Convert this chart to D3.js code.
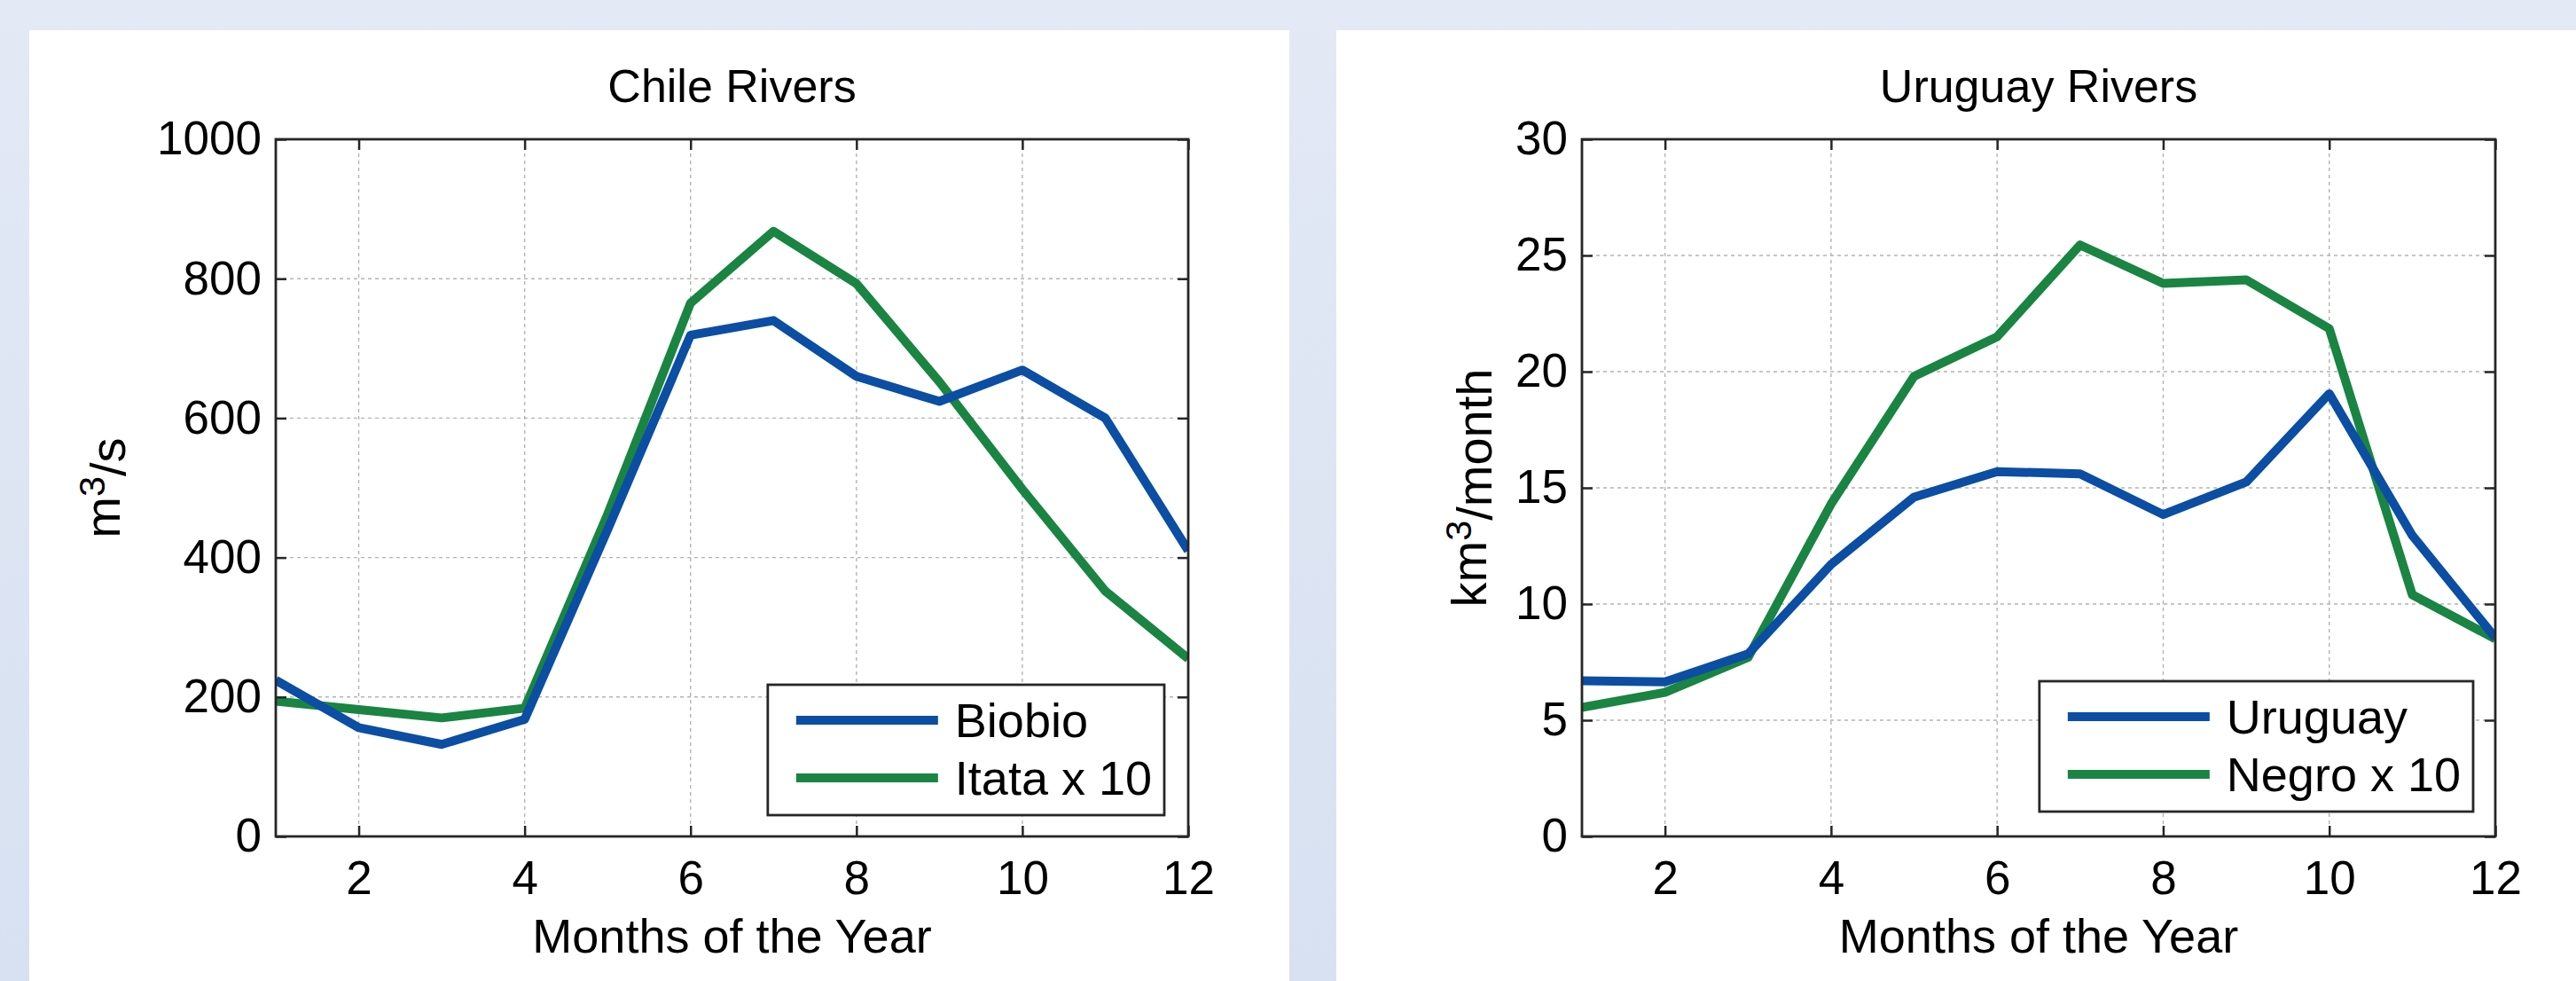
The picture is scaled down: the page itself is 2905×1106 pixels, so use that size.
<!DOCTYPE html>
<html>
<head>
<meta charset="utf-8">
<script src="https://cdn.jsdelivr.net/npm/d3@7"></script>
<style>
  html, body { margin: 0; padding: 0; }
  body { width: 2905px; height: 1106px; overflow: hidden; background: #e1e8f4; }
  svg text { font-family: "Liberation Sans", Arial, Helvetica, sans-serif; fill: #000; }
</style>
</head>
<body>
<svg id="chart" width="2905" height="1106"></svg>
<script>
// Monthly river discharge climatologies
const months = [1, 2, 3, 4, 5, 6, 7, 8, 9, 10, 11, 12];

// Chile (m^3/s)
const biobio   = [224, 156, 132, 168, 440, 719, 740, 660, 624, 669, 600, 410];
const itata10  = [194, 182, 170, 184, 462, 765, 868, 793, 652, 498, 352, 255];

// Uruguay (km^3/month)
const uruguay  = [6.7, 6.65, 7.85, 11.7, 14.6, 15.7, 15.6, 13.85, 15.25, 19.05, 12.95, 8.55];
const negro10  = [5.55, 6.2, 7.7, 14.3, 19.8, 21.5, 25.45, 23.8, 23.95, 21.85, 10.4, 8.5];

// Axis tick values
const monthTicks   = [2, 4, 6, 8, 10, 12];
const chileTicks   = [0, 200, 400, 600, 800, 1000];
const uruguayTicks = [0, 5, 10, 15, 20, 25, 30];

const seriesColors = { blue: "#0b4ea3", green: "#1a8442" };

const panels = [
  {
    id: "chile",
    title: "Chile Rivers",
    yLabel: ["m", "3", "/s"],
    yMax: 1000, yTicks: chileTicks,
    series: [
      { name: "Biobio", values: biobio, color: seriesColors.blue },
      { name: "Itata x 10", values: itata10, color: seriesColors.green }
    ],
    card: { x: 33, y: 34, w: 1421 },
    plot: { left: 311, right: 1340, top: 157, bottom: 943 },
    yLabelX: 115,
    legendInset: { right: 27, bottom: 24 }
  },
  {
    id: "uruguay",
    title: "Uruguay Rivers",
    yLabel: ["km", "3", "/month"],
    yMax: 30, yTicks: uruguayTicks,
    series: [
      { name: "Uruguay", values: uruguay, color: seriesColors.blue },
      { name: "Negro x 10", values: negro10, color: seriesColors.green }
    ],
    card: { x: 1507, y: 34, w: 1398 },
    plot: { left: 1784, right: 2814, top: 157, bottom: 943 },
    yLabelX: 1656,
    legendInset: { right: 25, bottom: 28 }
  }
];

const svg = d3.select("#chart");
const W = 2905, H = 1106;

// page background with a soft vertical tint
const defs = svg.append("defs");
const grad = defs.append("linearGradient").attr("id", "bg").attr("x1", 0).attr("y1", 0).attr("x2", 0).attr("y2", 1);
grad.append("stop").attr("offset", "0%").attr("stop-color", "#e3e9f5");
grad.append("stop").attr("offset", "100%").attr("stop-color", "#d7e1f1");
svg.append("rect").attr("width", W).attr("height", H).attr("fill", "url(#bg)");

const TICK_FONT = 53, TITLE_FONT = 52, LABEL_FONT = 54, YLABEL_FONT = 56, LEGEND_FONT = 54;
const axisColor = "#262626";

panels.forEach(p => {
  const { left, right, top, bottom } = p.plot;
  const pw = right - left, ph = bottom - top;

  // white card
  svg.append("rect")
    .attr("x", p.card.x).attr("y", p.card.y)
    .attr("width", p.card.w).attr("height", H - p.card.y)
    .attr("fill", "#ffffff");

  const x = d3.scaleLinear().domain([1, 12]).range([left, right]);
  const y = d3.scaleLinear().domain([0, p.yMax]).range([bottom, top]);

  const g = svg.append("g").attr("class", "panel-" + p.id);

  // dashed grid
  const grid = g.append("g").attr("class", "grid")
    .attr("stroke", "#b4b4b4").attr("stroke-width", 1.4).attr("stroke-dasharray", "4,4");
  grid.selectAll("line.v").data(monthTicks.filter(d => d < 12)).join("line")
    .attr("class", "v")
    .attr("x1", d => x(d)).attr("x2", d => x(d))
    .attr("y1", top).attr("y2", bottom);
  grid.selectAll("line.h").data(p.yTicks.filter(d => d > 0 && d < p.yMax)).join("line")
    .attr("class", "h")
    .attr("x1", left).attr("x2", right)
    .attr("y1", d => y(d)).attr("y2", d => y(d));

  // data lines, clipped to the axes box
  const clipId = "clip-" + p.id;
  defs.append("clipPath").attr("id", clipId)
    .append("rect").attr("x", left).attr("y", top).attr("width", pw).attr("height", ph);

  const line = d3.line().x((d, i) => x(months[i])).y(d => y(d));
  const lines = g.append("g").attr("clip-path", `url(#${clipId})`);
  // draw the "x 10" series first so the main river sits on top where they cross
  [...p.series].reverse().forEach(s => {
    lines.append("path")
      .datum(s.values)
      .attr("d", line)
      .attr("fill", "none")
      .attr("stroke", s.color)
      .attr("stroke-width", 10)
      .attr("stroke-linejoin", "round");
  });

  // axes with inward ticks on all four sides
  const styleAxis = sel => {
    sel.select(".domain").remove();
    sel.selectAll(".tick line").attr("stroke", axisColor).attr("stroke-width", 2.5);
    sel.selectAll(".tick text")
      .attr("font-size", TICK_FONT)
      .attr("fill", "#000")
      .style("font-family", '"Liberation Sans", Arial, sans-serif');
  };

  g.append("g").attr("transform", `translate(0,${bottom})`)
    .call(d3.axisBottom(x).tickValues(monthTicks).tickSize(-12).tickPadding(27).tickFormat(d3.format("d")))
    .call(styleAxis);
  g.append("g").attr("transform", `translate(0,${top})`)
    .call(d3.axisTop(x).tickValues(monthTicks).tickSize(-12).tickFormat(""))
    .call(styleAxis);
  g.append("g").attr("transform", `translate(${left},0)`)
    .call(d3.axisLeft(y).tickValues(p.yTicks).tickSize(-12).tickPadding(16).tickFormat(d3.format("d")))
    .call(styleAxis);
  g.append("g").attr("transform", `translate(${right},0)`)
    .call(d3.axisRight(y).tickValues(p.yTicks).tickSize(-12).tickFormat(""))
    .call(styleAxis);

  // axes box
  g.append("rect")
    .attr("x", left).attr("y", top).attr("width", pw).attr("height", ph)
    .attr("fill", "none").attr("stroke", axisColor).attr("stroke-width", 2.8);

  // title
  g.append("text")
    .attr("x", (left + right) / 2).attr("y", top - 42)
    .attr("text-anchor", "middle")
    .attr("font-size", TITLE_FONT)
    .text(p.title);

  // x label
  g.append("text")
    .attr("x", (left + right) / 2).attr("y", bottom + 131)
    .attr("text-anchor", "middle")
    .attr("font-size", LABEL_FONT)
    .text("Months of the Year");

  // y label with superscript
  const yl = g.append("text")
    .attr("transform", `translate(${p.yLabelX + 20},${(top + bottom) / 2}) rotate(-90)`)
    .attr("text-anchor", "middle")
    .attr("font-size", YLABEL_FONT);
  yl.append("tspan").text(p.yLabel[0]);
  yl.append("tspan").attr("dy", "-0.42em").attr("font-size", YLABEL_FONT * 0.74).text(p.yLabel[1]);
  yl.append("tspan").attr("dy", "0.42em").text(p.yLabel[2]);

  // legend
  const lg = g.append("g").attr("class", "legend");
  const box = lg.append("rect").attr("fill", "#fff").attr("stroke", axisColor).attr("stroke-width", 2.8);
  const padL = 32, sampleW = 160, gap = 19, padR = 14, rowH = 65, boxH = 147;
  const texts = p.series.map((s, i) =>
    lg.append("text")
      .attr("font-size", LEGEND_FONT)
      .attr("x", padL + sampleW + gap)
      .attr("y", 40 + i * rowH)
      .attr("dy", "0.36em")
      .text(s.name));
  const textW = d3.max(texts, t => t.node().getComputedTextLength());
  const boxW = padL + sampleW + gap + textW + padR;
  p.series.forEach((s, i) => {
    lg.append("line")
      .attr("x1", padL).attr("x2", padL + sampleW)
      .attr("y1", 40 + i * rowH).attr("y2", 40 + i * rowH)
      .attr("stroke", s.color).attr("stroke-width", 10);
  });
  box.attr("x", 0).attr("y", 0).attr("width", boxW).attr("height", boxH);
  lg.attr("transform", `translate(${right - p.legendInset.right - boxW},${bottom - p.legendInset.bottom - boxH})`);
});
</script>
</body>
</html>
